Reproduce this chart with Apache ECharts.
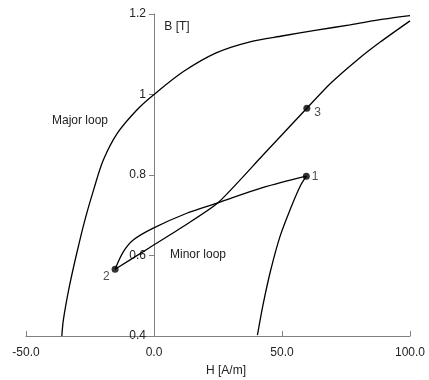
<!DOCTYPE html>
<html>
<head>
<meta charset="utf-8">
<script src="https://cdn.jsdelivr.net/npm/echarts@6/dist/echarts.min.js"></script>
<style>html,body{margin:0;padding:0;background:#fff}#c{width:429px;height:380px}</style>
</head>
<body>
<div id="c"></div>
<script>
// Major loop (descending branch)
var majorH = [100, 89.6, 76.6, 63.5, 50.5, 37.5, 24.5, 11.5, 0, -6.8, -14.3, -19.8, -23.5, -27, -30.2, -33.1, -35.4, -36];
var majorB = [1.196, 1.187, 1.173, 1.160, 1.146, 1.131, 1.104, 1.057, 1.0, 0.961, 0.904, 0.837, 0.765, 0.688, 0.605, 0.522, 0.440, 0.40];
// Ascending branch to point 1
var ascentH = [40.4, 42.7, 45.6, 49.2, 53.1, 57.0, 59.5];
var ascentB = [0.402, 0.481, 0.564, 0.647, 0.713, 0.771, 0.797];
// Minor loop: 1 -> 2
var minorDownH = [59.5, 42.7, 25, 12.8, -0.3, -8, -12, -15.2];
var minorDownB = [0.797, 0.769, 0.731, 0.705, 0.668, 0.639, 0.609, 0.566];
// Minor loop: 2 -> 3 -> end
var minorUpH = [-15.2, -1.6, 11.4, 25, 42.5, 59.7, 69, 79.4, 88.5, 100];
var minorUpB = [0.566, 0.620, 0.672, 0.731, 0.849, 0.966, 1.028, 1.086, 1.131, 1.183];
// Marked points
var pointNames = ['1', '2', '3'];
var pointH = [59.5, -15.2, 59.7];
var pointB = [0.797, 0.566, 0.966];
// Ticks
var xTicks = [-50, 0, 50, 100];
var yTicks = [0.4, 0.6, 0.8, 1.0, 1.2];

function pairs(h, b) { return h.map(function (v, i) { return [v, b[i]]; }); }
var FONT = '"Liberation Sans", Arial, sans-serif';
var lineStyle = { color: '#000', width: 1.3 };
function lineSeries(h, b, s) {
  return { type: 'line', data: pairs(h, b), showSymbol: false, smooth: s, lineStyle: lineStyle, silent: true };
}
var labelCfg = [
  { position: 'right', distance: 2, offset: [0, 0] },
  { position: 'left', distance: 2, offset: [0, 8] },
  { position: 'right', distance: 4, offset: [0, 5] }
];
var GRID_LEFT = 26, GRID_RIGHT = 19;
var chart = echarts.init(document.getElementById('c'), null, { renderer: 'canvas' });
var plotW = 429 - GRID_LEFT - GRID_RIGHT;
var zeroOffset = -plotW * (0 - xTicks[0]) / (xTicks[xTicks.length - 1] - xTicks[0]);
chart.setOption({
  animation: false,
  textStyle: { fontFamily: FONT },
  grid: { left: GRID_LEFT, right: GRID_RIGHT, top: 14, bottom: 44, containLabel: false },
  xAxis: {
    type: 'value', min: xTicks[0], max: xTicks[xTicks.length - 1], interval: 50,
    axisLine: { onZero: false, lineStyle: { color: '#808080', width: 1 } },
    axisTick: { inside: true, length: 5, lineStyle: { color: '#808080' } },
    axisLabel: { formatter: function (v) { return v.toFixed(1); }, color: '#222', fontSize: 12, fontFamily: FONT, margin: 11 },
    splitLine: { show: false }
  },
  yAxis: {
    type: 'value', min: yTicks[0], max: yTicks[yTicks.length - 1], interval: 0.2,
    offset: zeroOffset,
    axisLine: { show: true, onZero: false, lineStyle: { color: '#808080', width: 1 } },
    axisTick: { show: true, length: 5, lineStyle: { color: '#808080' } },
    axisLabel: { formatter: function (v) { return String(+v.toFixed(1)); }, color: '#222', fontSize: 12, fontFamily: FONT, margin: 8 },
    splitLine: { show: false }
  },
  series: [
    lineSeries(majorH, majorB, 0.3),
    lineSeries(ascentH, ascentB, 0.3),
    lineSeries(minorDownH, minorDownB, 0.3),
    lineSeries(minorUpH, minorUpB, 0.2),
    {
      type: 'scatter', symbol: 'circle', symbolSize: 7, itemStyle: { color: '#000' }, z: 5,
      data: pointNames.map(function (n, i) {
        return {
          name: n, value: [pointH[i], pointB[i]],
          label: {
            show: true, formatter: n, position: labelCfg[i].position, distance: labelCfg[i].distance,
            offset: labelCfg[i].offset, color: '#222', fontSize: 12, fontFamily: FONT
          }
        };
      })
    }
  ],
  graphic: [
    { type: 'text', x: 177, y: 27, style: { text: 'B [T]', fill: '#222', font: '12px ' + FONT, textAlign: 'center', textVerticalAlign: 'middle' } },
    { type: 'text', x: 226, y: 371, style: { text: 'H [A/m]', fill: '#222', font: '12px ' + FONT, textAlign: 'center', textVerticalAlign: 'middle' } },
    { type: 'text', x: 80, y: 121, style: { text: 'Major loop', fill: '#222', font: '12px ' + FONT, textAlign: 'center', textVerticalAlign: 'middle' } },
    { type: 'text', x: 198, y: 255, style: { text: 'Minor loop', fill: '#222', font: '12px ' + FONT, textAlign: 'center', textVerticalAlign: 'middle' } }
  ]
});
</script>
</body>
</html>
